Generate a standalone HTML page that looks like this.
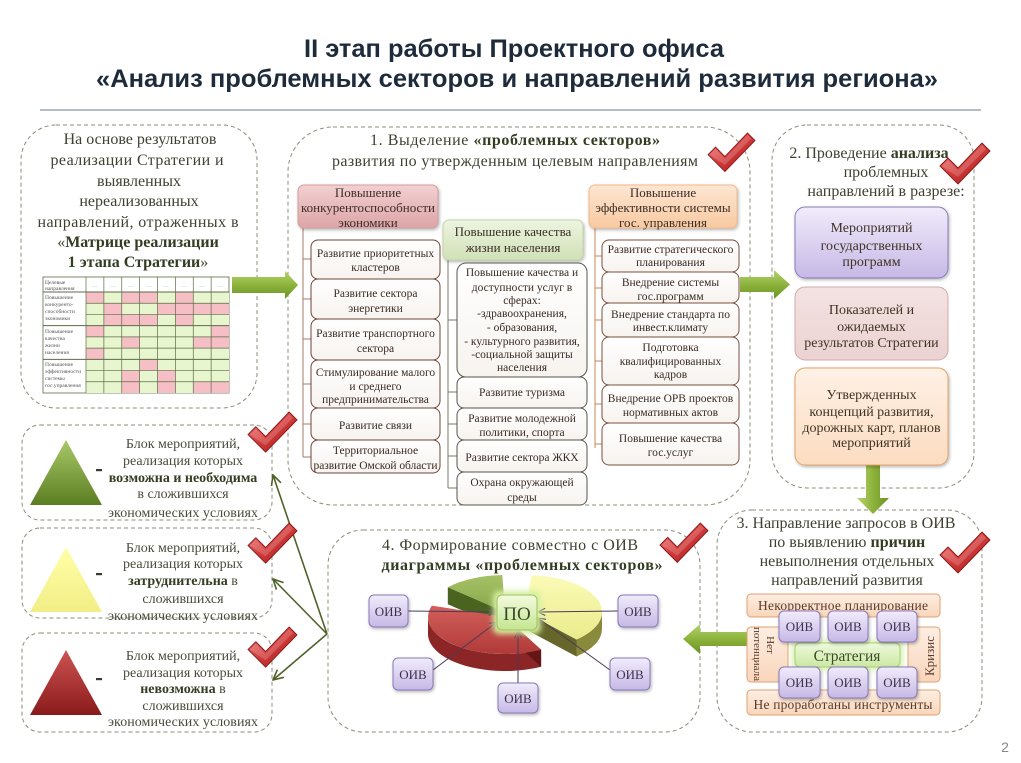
<!DOCTYPE html>
<html><head><meta charset="utf-8"><style>
html,body{margin:0;padding:0;background:#fff;}
svg{display:block;}
</style></head><body>
<svg width="1021" height="763" viewBox="0 0 1021 763" xmlns="http://www.w3.org/2000/svg" font-family="'Liberation Serif','DejaVu Serif',serif">
<defs>
<linearGradient id="gArrH" x1="0" y1="0" x2="0" y2="1"><stop offset="0" stop-color="#b5d36c"/><stop offset="0.5" stop-color="#8db33c"/><stop offset="1" stop-color="#6b9126"/></linearGradient>
<linearGradient id="gArrV" x1="0" y1="0" x2="1" y2="0"><stop offset="0" stop-color="#b5d36c"/><stop offset="0.5" stop-color="#8db33c"/><stop offset="1" stop-color="#6b9126"/></linearGradient>
<linearGradient id="gChk" x1="0" y1="0" x2="1" y2="1"><stop offset="0" stop-color="#f07a7a"/><stop offset="0.5" stop-color="#d23a3a"/><stop offset="1" stop-color="#9a1616"/></linearGradient>
<linearGradient id="gTriG" x1="0" y1="0" x2="0" y2="1"><stop offset="0" stop-color="#a8c868"/><stop offset="1" stop-color="#5c7e22"/></linearGradient>
<linearGradient id="gTriY" x1="0" y1="0" x2="0" y2="1"><stop offset="0" stop-color="#ffffa8"/><stop offset="1" stop-color="#f2ee86"/></linearGradient>
<linearGradient id="gTriR" x1="0" y1="0" x2="0" y2="1"><stop offset="0" stop-color="#cc5452"/><stop offset="1" stop-color="#8a1a1a"/></linearGradient>
<linearGradient id="gH1" x1="0" y1="0" x2="0" y2="1"><stop offset="0" stop-color="#f3d0d1"/><stop offset="1" stop-color="#dca4a6"/></linearGradient>
<linearGradient id="gH2" x1="0" y1="0" x2="0" y2="1"><stop offset="0" stop-color="#edf4e1"/><stop offset="1" stop-color="#d0e1b6"/></linearGradient>
<linearGradient id="gH3" x1="0" y1="0" x2="0" y2="1"><stop offset="0" stop-color="#fde6d2"/><stop offset="1" stop-color="#f8c9a0"/></linearGradient>
<linearGradient id="gPur" x1="0" y1="0" x2="0" y2="1"><stop offset="0" stop-color="#f1ecfb"/><stop offset="1" stop-color="#c6b8e6"/></linearGradient>
<linearGradient id="gPnk" x1="0" y1="0" x2="0" y2="1"><stop offset="0" stop-color="#f4e2e2"/><stop offset="1" stop-color="#ecd2d2"/></linearGradient>
<linearGradient id="gOrg" x1="0" y1="0" x2="0" y2="1"><stop offset="0" stop-color="#fef1e6"/><stop offset="1" stop-color="#fcdcc0"/></linearGradient>
<linearGradient id="gBar" x1="0" y1="0" x2="0" y2="1"><stop offset="0" stop-color="#fdeee2"/><stop offset="1" stop-color="#f9d6bb"/></linearGradient>
<linearGradient id="gStr" x1="0" y1="0" x2="0" y2="1"><stop offset="0" stop-color="#eff9dc"/><stop offset="1" stop-color="#cbe8a2"/></linearGradient>
<linearGradient id="gPO" x1="0" y1="0" x2="0" y2="1"><stop offset="0" stop-color="#f4fbdf"/><stop offset="1" stop-color="#c4e690"/></linearGradient>
<linearGradient id="gRed" x1="0" y1="0" x2="0" y2="1"><stop offset="0" stop-color="#d25f5b"/><stop offset="1" stop-color="#b03a37"/></linearGradient>
<linearGradient id="gYel" x1="0" y1="0" x2="0" y2="1"><stop offset="0" stop-color="#fbfbb8"/><stop offset="1" stop-color="#ebeb8c"/></linearGradient>
<linearGradient id="gGrn" x1="0" y1="0" x2="0" y2="1"><stop offset="0" stop-color="#a6c266"/><stop offset="1" stop-color="#86a64a"/></linearGradient>
<linearGradient id="gItem" x1="0" y1="0" x2="0" y2="1"><stop offset="0" stop-color="#ffffff"/><stop offset="1" stop-color="#f7f3ef"/></linearGradient>
<filter id="glow" x="-40%" y="-40%" width="180%" height="180%"><feGaussianBlur stdDeviation="3"/></filter>
<filter id="sh" x="-10%" y="-10%" width="130%" height="140%"><feGaussianBlur in="SourceAlpha" stdDeviation="1.5"/><feOffset dx="1" dy="1.5"/><feComponentTransfer><feFuncA type="linear" slope="0.3"/></feComponentTransfer><feMerge><feMergeNode/><feMergeNode in="SourceGraphic"/></feMerge></filter>
<marker id="mOl" markerUnits="userSpaceOnUse" markerWidth="12" markerHeight="12" viewBox="0 0 12 12" refX="11" refY="6" orient="auto"><path d="M1,1 L11,6 L1,11" fill="none" stroke="#4f6228" stroke-width="1.6"/></marker>
<marker id="mPu" markerUnits="userSpaceOnUse" markerWidth="9" markerHeight="9" viewBox="0 0 10 10" refX="9" refY="5" orient="auto"><path d="M1,1 L9,5 L1,9" fill="none" stroke="#4a3a5a" stroke-width="1.2"/></marker>
<g id="chk"><path d="M0,23 L8,15 L18,25 L42,0 L50,8 L18,41 Z" fill="url(#gChk)" stroke="#861212" stroke-width="0.9"/><path d="M2,23 L8,17 L18,27 L42,2 L46,6 L18,34 Z" fill="#ffffff" fill-opacity="0.18"/></g>
</defs>

<!-- Title -->
<text x="514" y="57" font-family="'Liberation Sans',sans-serif" font-weight="bold" font-size="25" fill="#1e2b3a" text-anchor="middle" textLength="420" lengthAdjust="spacingAndGlyphs">II этап работы Проектного офиса</text>
<text x="517" y="87" font-family="'Liberation Sans',sans-serif" font-weight="bold" font-size="25" fill="#1e2b3a" text-anchor="middle" textLength="842" lengthAdjust="spacingAndGlyphs">«Анализ проблемных секторов и направлений развития региона»</text>
<line x1="40" y1="110" x2="981" y2="110" stroke="#6b7b8c" stroke-width="1"/>

<!-- Dashed containers -->
<g fill="none" stroke="#8c8c78" stroke-width="1" stroke-dasharray="4 3">
<rect x="21" y="125" width="236" height="283" rx="35"/>
<rect x="288" y="127" width="462" height="378" rx="45"/>
<rect x="772" y="125" width="202" height="363" rx="35"/>
<rect x="717" y="510" width="265" height="222" rx="35"/>
<rect x="328" y="530" width="372" height="202" rx="35"/>
<rect x="22" y="425" width="250" height="95" rx="18"/>
<rect x="22" y="528" width="250" height="90" rx="18"/>
<rect x="22" y="633" width="250" height="99" rx="18"/>
</g>

<!-- Box A text -->
<g font-size="16" fill="#3f3f30" text-anchor="middle">
<text x="140" y="144">На основе результатов</text>
<text x="137" y="165" textLength="173">реализации Стратегии и</text>
<text x="139" y="186">выявленных</text>
<text x="139" y="206">нереализованных</text>
<text x="138" y="227" textLength="201">направлений, отраженных в</text>
<text x="138" y="247">«<tspan font-weight="bold" fill="#333d22">Матрице реализации</tspan></text>
<text x="138" y="267"><tspan font-weight="bold" fill="#333d22">1 этапа Стратегии</tspan>»</text>
</g>

<!-- Matrix -->
<rect x="43" y="277" width="186" height="116" fill="#fff" stroke="#5d6b48" stroke-width="0.8"/>
<g transform="translate(86,292) scale(17.875,11.222)">
<rect x="0" y="0" width="8" height="9" fill="#e8f6cf"/>
<g fill="#f5bfc5">
<rect x="0" y="0" width="1" height="1"/><rect x="2" y="0" width="1" height="1"/><rect x="3" y="0" width="1" height="1"/><rect x="5" y="0" width="1" height="1"/>
<rect x="1" y="1" width="1" height="1"/><rect x="4" y="1" width="1" height="1"/><rect x="5" y="1" width="1" height="1"/><rect x="6" y="1" width="1" height="1"/><rect x="7" y="1" width="1" height="1"/>
<rect x="1" y="2" width="1" height="1"/><rect x="2" y="2" width="1" height="1"/><rect x="3" y="2" width="1" height="1"/><rect x="5" y="2" width="1" height="1"/>
<rect x="0" y="3" width="1" height="1"/><rect x="7" y="3" width="1" height="1"/>
<rect x="2" y="4" width="1" height="1"/><rect x="6" y="4" width="1" height="1"/><rect x="7" y="4" width="1" height="1"/>
<rect x="0" y="5" width="1" height="1"/>
<rect x="3" y="6" width="1" height="1"/>
<rect x="2" y="7" width="1" height="1"/><rect x="4" y="7" width="1" height="1"/>
<rect x="2" y="8" width="1" height="1"/><rect x="4" y="8" width="1" height="1"/><rect x="6" y="8" width="1" height="1"/><rect x="7" y="8" width="1" height="1"/>
</g>
<g stroke="#5d6b48" stroke-width="0.7" vector-effect="non-scaling-stroke" fill="none">
<path vector-effect="non-scaling-stroke" d="M0,-1.35 V9 M1,-1.35 V9 M2,-1.35 V9 M3,-1.35 V9 M4,-1.35 V9 M5,-1.35 V9 M6,-1.35 V9 M7,-1.35 V9 M0,1 H8 M0,2 H8 M0,4 H8 M0,5 H8 M0,7 H8 M0,8 H8"/>
<path vector-effect="non-scaling-stroke" stroke-width="1" d="M-2.4,0 H8 M-2.4,3 H8 M-2.4,6 H8"/>
</g>
</g>
<g font-size="5.5" fill="#555" font-family="'Liberation Serif',serif">
<text x="45" y="284">Целевые</text><text x="45" y="290">направления</text>
<text x="45" y="299">Повышение</text><text x="45" y="306">конкуренто-</text><text x="45" y="313">способности</text><text x="45" y="320">экономики</text>
<text x="45" y="333">Повышение</text><text x="45" y="340">качества</text><text x="45" y="347">жизни</text><text x="45" y="354">населения</text>
<text x="45" y="366">Повышение</text><text x="45" y="373">эффективности</text><text x="45" y="380">системы</text><text x="45" y="387">гос.управления</text>
</g>
<g font-size="6" fill="#999" text-anchor="middle">
<text x="95" y="287">…</text><text x="113" y="287">…</text><text x="131" y="287">…</text><text x="149" y="287">…</text><text x="166" y="287">…</text><text x="184" y="287">…</text><text x="202" y="287">…</text><text x="220" y="287">…</text>
</g>

<!-- Green arrows -->
<polygon points="232,277 285,277 285,271 298,285 285,299 285,293 232,293" fill="url(#gArrH)"/>
<polygon points="740,277 774,277 774,270 790,284.5 774,299 774,292 740,292" fill="url(#gArrH)"/>
<polygon points="866,462 880,462 880,498 889,498 873,514 857,498 866,498" fill="url(#gArrV)"/>
<polygon points="748,632 700,632 700,624 683,639 700,654 700,646 748,646" fill="url(#gArrH)"/>

<!-- Box B heading -->
<g font-size="16" fill="#3f3f30" text-anchor="middle">
<text x="515" y="145" textLength="290">1. Выделение <tspan font-weight="bold" fill="#333d22">«проблемных секторов»</tspan></text>
<text x="515" y="166" textLength="366">развития по утвержденным целевым направлениям</text>
</g>

<!-- Tree lines -->
<g fill="none" stroke-width="1">
<path d="M303,228 V457 M303,259 H311 M303,299 H311 M303,339 H311 M303,384 H311 M303,424 H311 M303,457 H311" stroke="#a87868"/>
<path d="M448,260 V488 M448,320 H457 M448,392 H457 M448,424 H457 M448,456 H457 M448,488 H457" stroke="#7a7a62"/>
<path d="M595,228 V448 M595,256 H602 M595,288 H602 M595,320 H602 M595,361 H602 M595,404 H602 M595,444 H602" stroke="#c8865a"/>
</g>

<!-- Headers -->
<rect x="298" y="185" width="140" height="43" rx="6" fill="url(#gH1)" stroke="#d49ea0" filter="url(#sh)"/>
<rect x="443" y="220" width="140" height="40" rx="6" fill="url(#gH2)" stroke="#c3d6a6" filter="url(#sh)"/>
<rect x="589" y="185" width="148" height="43" rx="6" fill="url(#gH3)" stroke="#f0bb90" filter="url(#sh)"/>
<g font-size="13" fill="#3a2e28" text-anchor="middle">
<text x="368" y="197">Повышение</text><text x="368" y="212">конкурентоспособности</text><text x="368" y="227">экономики</text>
<text x="513" y="236">Повышение качества</text><text x="513" y="252">жизни населения</text>
<text x="663" y="197">Повышение</text><text x="663" y="212">эффективности системы</text><text x="663" y="227">гос. управления</text>
</g>

<!-- Column items -->
<g fill="url(#gItem)" stroke="#6b4436" stroke-width="1">
<rect x="311" y="240" width="129" height="39" rx="7"/>
<rect x="311" y="279" width="129" height="40" rx="7"/>
<rect x="311" y="319" width="129" height="41" rx="7"/>
<rect x="311" y="360" width="129" height="48" rx="7"/>
<rect x="311" y="408" width="129" height="32" rx="7"/>
<rect x="311" y="440" width="129" height="33" rx="7"/>
</g>
<g fill="url(#gItem)" stroke="#55554a" stroke-width="1">
<rect x="457" y="263" width="130" height="114" rx="9"/>
<rect x="457" y="377" width="130" height="31" rx="7"/>
<rect x="457" y="408" width="130" height="32" rx="7"/>
<rect x="457" y="440" width="130" height="32" rx="7"/>
<rect x="457" y="472" width="130" height="33" rx="7"/>
</g>
<g fill="url(#gItem)" stroke="#7a4e3c" stroke-width="1">
<rect x="602" y="240" width="137" height="32" rx="7"/>
<rect x="602" y="272" width="137" height="31" rx="7"/>
<rect x="602" y="303" width="137" height="34" rx="7"/>
<rect x="602" y="337" width="137" height="48" rx="7"/>
<rect x="602" y="385" width="137" height="38" rx="7"/>
<rect x="602" y="423" width="137" height="42" rx="7"/>
</g>
<g font-size="11.5" fill="#3a2a22" text-anchor="middle">
<text x="375.5" y="257">Развитие приоритетных</text><text x="375.5" y="271">кластеров</text>
<text x="375.5" y="297">Развитие сектора</text><text x="375.5" y="312">энергетики</text>
<text x="375.5" y="337">Развитие транспортного</text><text x="375.5" y="352">сектора</text>
<text x="375.5" y="376">Стимулирование малого</text><text x="375.5" y="390">и среднего</text><text x="375.5" y="403">предпринимательства</text>
<text x="375.5" y="429">Развитие связи</text>
<text x="375.5" y="454">Территориальное</text><text x="375.5" y="469" textLength="124">развитие Омской области</text>

<text x="522" y="276">Повышение качества и</text>
<text x="522" y="291">доступности услуг в</text>
<text x="522" y="304">сферах:</text>
<text x="522" y="317">-здравоохранения,</text>
<text x="522" y="331">- образования,</text>
<text x="522" y="345">- культурного развития,</text>
<text x="522" y="358">-социальной защиты</text>
<text x="522" y="371">населения</text>
<text x="522" y="396">Развитие туризма</text>
<text x="522" y="422">Развитие молодежной</text><text x="522" y="436">политики, спорта</text>
<text x="522" y="461">Развитие сектора ЖКХ</text>
<text x="522" y="486">Охрана окружающей</text><text x="522" y="501">среды</text>

<text x="670.5" y="253">Развитие стратегического</text><text x="670.5" y="266">планирования</text>
<text x="670.5" y="286">Внедрение системы</text><text x="670.5" y="300">гос.программ</text>
<text x="670.5" y="318">Внедрение стандарта по</text><text x="670.5" y="331">инвест.климату</text>
<text x="670.5" y="351">Подготовка</text><text x="670.5" y="365">квалифицированных</text><text x="670.5" y="378">кадров</text>
<text x="670.5" y="402">Внедрение ОРВ проектов</text><text x="670.5" y="416">нормативных актов</text>
<text x="670.5" y="442">Повышение качества</text><text x="670.5" y="456">гос.услуг</text>
</g>

<!-- Box C -->
<g font-size="16" fill="#3f3f30" text-anchor="middle">
<text x="869" y="158">2. Проведение <tspan font-weight="bold" fill="#333d22">анализа</tspan></text>
<text x="886" y="177">проблемных</text>
<text x="886" y="196">направлений в разрезе:</text>
</g>
<rect x="795" y="207" width="153" height="71" rx="10" fill="url(#gPur)" stroke="#8a7ab8" filter="url(#sh)"/>
<rect x="795" y="287" width="153" height="73" rx="10" fill="url(#gPnk)" stroke="#d4a8a8"/>
<rect x="795" y="368" width="153" height="97" rx="10" fill="url(#gOrg)" stroke="#e6a468" filter="url(#sh)"/>
<g font-size="14" fill="#3f3326" text-anchor="middle">
<text x="871.5" y="232">Мероприятий</text><text x="871.5" y="250">государственных</text><text x="871.5" y="266">программ</text>
<text x="871.5" y="314">Показателей и</text><text x="871.5" y="331">ожидаемых</text><text x="871.5" y="347">результатов Стратегии</text>
<text x="871.5" y="399">Утвержденных</text><text x="871.5" y="416">концепций развития,</text><text x="871.5" y="432">дорожных карт, планов</text><text x="871.5" y="447">мероприятий</text>
</g>

<!-- Box D -->
<g font-size="16" fill="#3f3f30" text-anchor="middle">
<text x="846" y="528">3. Направление запросов в ОИВ</text>
<text x="847" y="547">по выявлению <tspan font-weight="bold" fill="#333d22">причин</tspan></text>
<text x="847" y="566">невыполнения отдельных</text>
<text x="847" y="585">направлений развития</text>
</g>
<g fill="url(#gBar)" stroke="#e0a070" stroke-width="1">
<rect x="747" y="594" width="193" height="23" rx="4"/>
<rect x="747" y="627" width="41" height="55" rx="4"/>
<rect x="908" y="627" width="32" height="55" rx="4"/>
<rect x="747" y="690" width="193" height="25" rx="4"/>
</g>
<g font-size="13.5" fill="#5a3a2c" text-anchor="middle">
<text x="843" y="610" textLength="170">Некорректное планирование</text>
<text x="843" y="709" textLength="179">Не проработаны инструменты</text>
</g>
<text x="767" y="645" font-size="11" fill="#5a3a2c" text-anchor="middle" transform="rotate(90 767 645)">Нет</text>
<text x="754" y="654" font-size="11" fill="#5a3a2c" text-anchor="middle" transform="rotate(90 754 654)">потенциала</text>
<text x="934" y="656" font-size="13" fill="#5a3a2c" text-anchor="middle" transform="rotate(-90 934 656)">Кризис</text>
<rect x="792" y="640" width="111" height="30" rx="6" fill="#d8f0b0" filter="url(#glow)"/>
<rect x="795" y="643" width="105" height="24" rx="5" fill="url(#gStr)" stroke="#a8cf74"/>
<text x="847" y="661" font-size="15.5" fill="#3a4a2a" text-anchor="middle">Стратегия</text>
<g fill="url(#gPur)" stroke="#8a7ab8" stroke-width="1" filter="url(#sh)">
<rect x="779" y="611" width="41" height="31" rx="5"/>
<rect x="828" y="611" width="40" height="31" rx="5"/>
<rect x="877" y="611" width="40" height="31" rx="5"/>
<rect x="779" y="667" width="41" height="31" rx="5"/>
<rect x="828" y="667" width="40" height="31" rx="5"/>
<rect x="877" y="667" width="40" height="31" rx="5"/>
</g>
<g font-size="13" fill="#3c3248" text-anchor="middle">
<text x="799.5" y="631">ОИВ</text><text x="848" y="631">ОИВ</text><text x="897" y="631">ОИВ</text>
<text x="799.5" y="687">ОИВ</text><text x="848" y="687">ОИВ</text><text x="897" y="687">ОИВ</text>
</g>

<!-- Box E -->
<g font-size="16" fill="#3f3f30" text-anchor="middle">
<text x="510" y="550" textLength="256">4. Формирование совместно с ОИВ</text>
<text x="522" y="570" font-weight="bold" fill="#333d22" textLength="281">диаграммы «проблемных секторов»</text>
</g>
<!-- pie: green -->
<path d="M505,612 L447.8,587.2 L447.8,604.2 L505,629 Z" fill="#4a6420"/>
<path d="M505,612 L447.8,587.2 A77 37 0 0 1 502.3,575 Z" fill="url(#gGrn)"/>
<!-- pie: yellow -->
<path d="M602,612 A77 37 0 0 1 576.5,639.5 L576.5,656.5 A77 37 0 0 0 602,629 Z" fill="#8a8a3c"/>
<path d="M525,612 L576.5,639.5 L576.5,656.5 L525,629 Z" fill="#66662a"/>
<path d="M525,612 L531.7,575.1 A77 37 0 0 1 576.5,639.5 Z" fill="url(#gYel)"/>
<!-- pie: red -->
<path d="M541.1,649.7 A77 37 0 0 1 428,617 L428,634 A77 37 0 0 0 541.1,666.7 Z" fill="#8c2626"/>
<path d="M505,617 L541.1,649.7 L541.1,666.7 L505,634 Z" fill="#621616"/>
<path d="M505,617 L541.1,649.7 A77 37 0 0 1 431.8,605.6 Z" fill="url(#gRed)"/>
<!-- OIV lines -->
<g stroke="#4a3a5a" stroke-width="1" marker-end="url(#mPu)">
<line x1="408" y1="611" x2="496" y2="612"/>
<line x1="618" y1="611" x2="538" y2="612"/>
<line x1="433" y1="670" x2="497" y2="622"/>
<line x1="610" y1="670" x2="538" y2="618"/>
<line x1="518" y1="683" x2="518" y2="631"/>
</g>
<rect x="493" y="591" width="48" height="43" rx="6" fill="#d6f0a0" filter="url(#glow)"/>
<rect x="497" y="595" width="40" height="35" rx="5" fill="url(#gPO)" stroke="#9cc262"/>
<text x="517" y="620" font-size="19" fill="#3a4a2a" text-anchor="middle">ПО</text>
<g fill="url(#gPur)" stroke="#8a7ab8" stroke-width="1" filter="url(#sh)">
<rect x="369" y="595" width="39" height="32" rx="5"/>
<rect x="618" y="595" width="40" height="32" rx="5"/>
<rect x="393" y="658" width="40" height="32" rx="5"/>
<rect x="610" y="658" width="40" height="32" rx="5"/>
<rect x="498" y="683" width="40" height="30" rx="5"/>
</g>
<g font-size="13" fill="#3c3248" text-anchor="middle">
<text x="388.5" y="616">ОИВ</text><text x="638" y="616">ОИВ</text>
<text x="413" y="679">ОИВ</text><text x="630" y="679">ОИВ</text>
<text x="518" y="703">ОИВ</text>
</g>

<!-- Left blocks -->
<polygon points="30,505 66,440 102,505" fill="url(#gTriG)"/>
<polygon points="30,612 66,547 102,612" fill="url(#gTriY)"/>
<polygon points="30,715 66,650 102,715" fill="url(#gTriR)"/>
<g fill="#3a3a30">
<rect x="96" y="469" width="6" height="2.2"/>
<rect x="96" y="573" width="6" height="2.2"/>
<rect x="96" y="678" width="6" height="2.2"/>
</g>
<g font-size="14" fill="#4a4a3a" text-anchor="middle">
<text x="183" y="448">Блок мероприятий,</text>
<text x="183" y="465">реализация которых</text>
<text x="183" y="482" font-weight="bold" fill="#333d22">возможна и необходима</text>
<text x="183" y="498">в сложившихся</text>
<text x="183" y="517" textLength="150">экономических условиях</text>

<text x="183" y="552">Блок мероприятий,</text>
<text x="183" y="568">реализация которых</text>
<text x="183" y="585"><tspan font-weight="bold" fill="#333d22">затруднительна</tspan> в</text>
<text x="183" y="603">сложившихся</text>
<text x="183" y="620" textLength="150">экономических условиях</text>

<text x="183" y="660">Блок мероприятий,</text>
<text x="183" y="677">реализация которых</text>
<text x="183" y="693"><tspan font-weight="bold" fill="#333d22">невозможна</tspan> в</text>
<text x="183" y="710">сложившихся</text>
<text x="183" y="726" textLength="150">экономических условиях</text>
</g>
<g stroke="#4f6228" stroke-width="1.6" fill="none" marker-end="url(#mOl)">
<line x1="327" y1="634" x2="273" y2="475"/>
<line x1="327" y1="634" x2="273" y2="579"/>
<line x1="327" y1="634" x2="273" y2="680"/>
</g>

<!-- Checkmarks -->
<use href="#chk" transform="translate(708,133) scale(0.94)"/>
<use href="#chk" transform="translate(940,143)"/>
<use href="#chk" transform="translate(940,532)"/>
<use href="#chk" transform="translate(660,523) scale(0.96)"/>
<use href="#chk" transform="translate(248,412) scale(0.98)"/>
<use href="#chk" transform="translate(248,523) scale(0.98)"/>
<use href="#chk" transform="translate(248,627) scale(0.98)"/>

<text x="1005" y="752" font-family="'Liberation Sans',sans-serif" font-size="14" fill="#8a8a8a" text-anchor="middle">2</text>
</svg>
</body></html>
